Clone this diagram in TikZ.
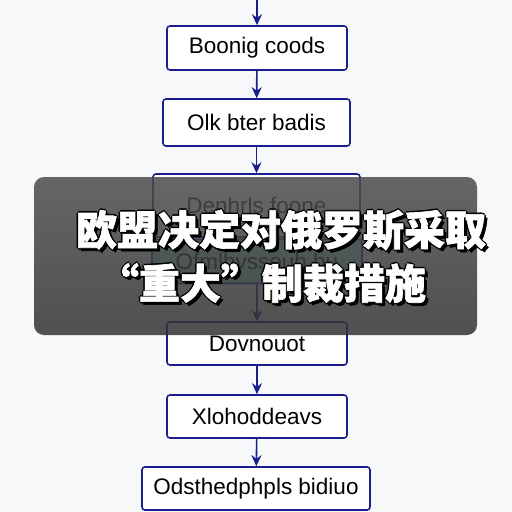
\documentclass[tikz,border=0pt]{standalone}
\usepackage{fontspec}
\setmainfont{Liberation Sans}
\newfontfamily\cjk{Noto Sans CJK SC}[FakeBold=1.6]
\usepackage{xcolor}
\usetikzlibrary{arrows.meta}
\definecolor{navy}{RGB}{24,30,140}
\definecolor{paper}{RGB}{247,248,250}
\definecolor{mint}{RGB}{150,220,214}

\begin{document}
\begin{tikzpicture}[x=1pt, y=-1pt,
  stepbox/.style={draw=navy, line width=1.6pt, rounded corners=3pt, fill=white, minimum height=44pt, inner sep=0pt, font=\fontsize{22.5}{26}\selectfont},
  flow/.style={-{Stealth[length=11pt, width=10pt]}, draw=navy, line width=1.6pt},
  headline/.style={font=\cjk\bfseries\fontsize{41}{48}\selectfont, text=white, inner sep=0pt},
  headshadow/.style={headline, text=black},
]
  % Canvas
  \useasboundingbox (0,0) rectangle (512,512);
  \fill[paper] (0,0) rectangle (512,512);

  % Steps
  \coordinate (entry) at (257,0);
  \node[stepbox, minimum width=180pt] (boarding) at (257,48) {Boonig coods};
  \node[stepbox, minimum width=187pt, minimum height=47pt] (check) at (256.5,122.5) {Olk bter badis};
  \node[stepbox, minimum width=207pt, minimum height=63pt] (deny) at (256.5,205.5) {Denhrls foone};
  \node[stepbox, minimum width=210pt, fill=mint] (offer) at (257,261.5) {Ofmlhvssouh bu};
  \node[stepbox, minimum width=180pt, minimum height=43pt] (download) at (257,343.5) {Dovnouot};
  \node[stepbox, minimum width=180pt, minimum height=43pt] (unload) at (257,416.5) {Xlohoddeavs};
  \node[stepbox, minimum width=228pt, minimum height=43pt] (dispatch) at (256,488.5) {Odsthedphpls bidiuo};

  % Flow
  \draw[flow] (entry) -- (boarding);
  \draw[flow] (boarding) -- (check);
  \draw[flow] (check) -- (deny);
  \draw[flow] (offer) -- (download);
  \draw[flow] (download) -- (unload);
  \draw[flow] (unload) -- (dispatch);

  % Caption overlay
  \shade[top color=black!70, bottom color=black!80, fill opacity=0.85, rounded corners=10pt] (34,177) rectangle (477,335);
  \foreach \dx/\dy [count=\i] in {-1.5/0, 1.5/0, 0/-1.5, 0/1.5, 3/3} {
    \node[headshadow] (shadowA\i) at (281+\dx,230+\dy) {欧盟决定对俄罗斯采取};
    \node[headshadow] (shadowB\i) at (262+\dx,283+\dy) {“重大”制裁措施};
  }
  \node[headline] (titleA) at (281,230) {欧盟决定对俄罗斯采取};
  \node[headline] (titleB) at (262,283) {“重大”制裁措施};
\end{tikzpicture}
\end{document}
